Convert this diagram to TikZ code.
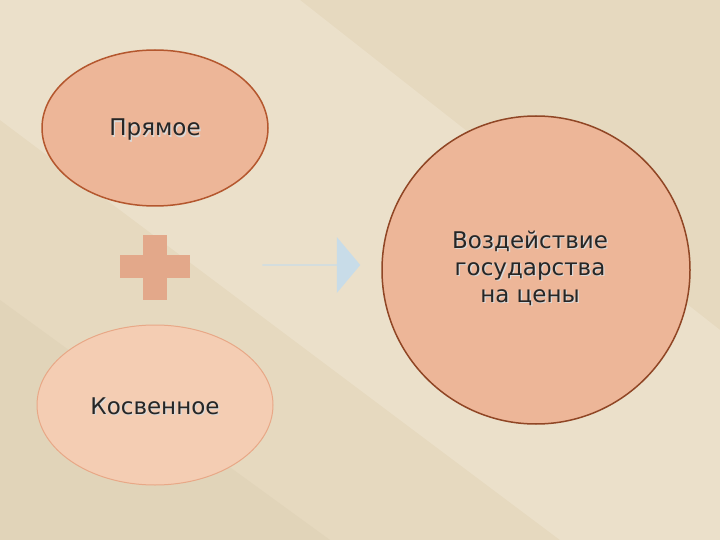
\documentclass[tikz,border=0pt]{standalone}
\usepackage{fontspec}
\setmainfont{DejaVu Sans}
\usetikzlibrary{shapes.arrows,shapes.geometric}
\definecolor{bg}{HTML}{E6D9BF}
\definecolor{bgl}{HTML}{EBE0CA}
\definecolor{bgd}{HTML}{E1D4B9}
\definecolor{peach}{HTML}{EDB698}
\definecolor{peachl}{HTML}{F4CDB3}
\definecolor{rim}{HTML}{B4572E}
\definecolor{riml}{HTML}{E8A887}
\definecolor{plus}{HTML}{E3A88A}
\definecolor{arr}{HTML}{C8DCE8}
\tikzset{lbl/.style={font=\fontsize{23}{27}\selectfont, text=black!85, align=center}}
\newcommand{\shtext}[3]{\node[lbl, text=white!70!gray] at ([shift={(1.3pt,-1.3pt)}]#1) {#3};\node[lbl] (#2) at (#1) {#3};}
\begin{document}
\begin{tikzpicture}[x=1pt,y=-1pt]
\fill[bg] (0,0) rectangle (720,540);
\fill[bgl] (0,0) -- (300,0) -- (720,330) -- (720,540) -- (560,540) -- (0,120) -- cycle;
\fill[bgd] (0,300) -- (330,540) -- (0,540) -- cycle;
\useasboundingbox (0,0) rectangle (720,540);
\node[draw=rim, line width=1.5pt, fill=peach, ellipse, minimum width=226, minimum height=156] (a) at (155,128) {};
\node[draw=riml, line width=1pt, fill=peachl, ellipse, minimum width=236, minimum height=160] (b) at (155,405) {};
\node[draw=rim!80!black, line width=1.5pt, fill=peach, circle, minimum size=308] (c) at (536,270) {};
\fill[plus] (143,235) rectangle (167,300);
\fill[plus] (120,255) rectangle (190,278);
\node[single arrow, fill=arr, minimum height=98, minimum width=56, single arrow head extend=8pt, inner sep=0pt, single arrow tip angle=100] (ar) at (311,265) {};
\shtext{155,130}{ta}{Прямое}
\shtext{155,406}{tb}{Косвенное}
\shtext{530,268}{tc}{Воздействие\\государства\\на цены}
\end{tikzpicture}
\end{document}
